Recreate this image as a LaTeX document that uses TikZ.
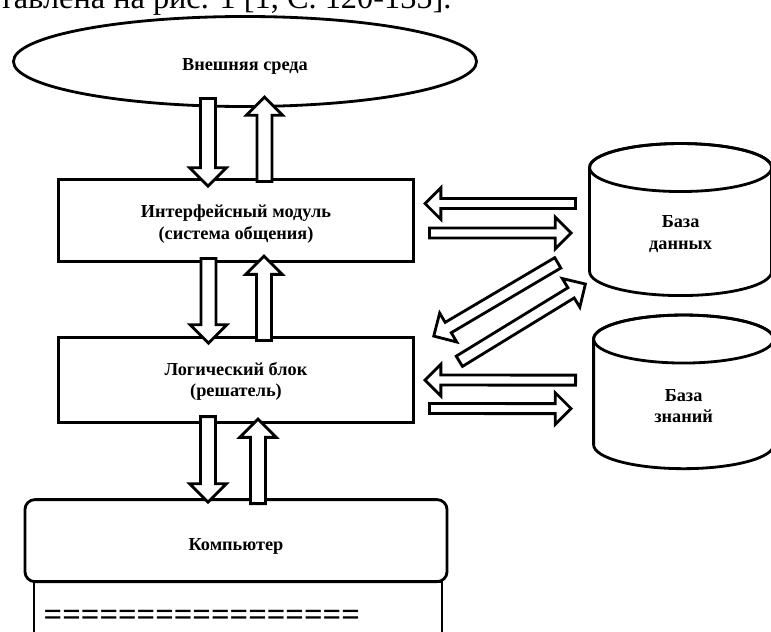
\documentclass[tikz,border=0pt]{standalone}
\usepackage{fontspec}
\setmainfont{Liberation Serif}
\usepackage{tikz}
\usetikzlibrary{positioning,shapes.geometric,calc}
\tikzset{
  sysenv/.style={ellipse,draw,line width=2pt,fill=white,outer sep=0pt,
    minimum width=11.575cm,minimum height=2.25cm,align=center,font=\bfseries\fontsize{13}{15}\selectfont},
  sysblock/.style={rectangle,draw,line width=2pt,fill=white,outer sep=0pt,
    minimum width=8.875cm,minimum height=2.05cm,align=center,font=\bfseries\fontsize{13}{15}\selectfont},
  syscomp/.style={rectangle,draw,line width=2pt,fill=white,rounded corners=0.25cm,outer sep=0pt,
    minimum width=10.55cm,minimum height=2.05cm,align=center,font=\bfseries\fontsize{13}{15}\selectfont},
  sysscreen/.style={rectangle,draw,line width=2pt,outer sep=0pt,minimum width=10.2cm,minimum height=3cm},
  sysstore/.style={rectangle,outer sep=0pt,minimum width=4.55cm,minimum height=3.2cm,
    align=center,font=\bfseries\fontsize{13}{15}\selectfont},
  storeline/.style={line width=2pt},
  fatarrow/.style={draw,line width=2pt,fill=white,line join=miter},
  pagetext/.style={inner sep=0pt,font=\fontsize{23}{28}\selectfont}
}
% hollow block arrow from #2 to #3, #1 = half shaft width
\newcommand{\bigarrow}[3][0.1875cm]{%
  \pgfmathsetlengthmacro{\bahead}{#1+0.27cm}%
  \coordinate (bahb) at ($(#3)!\bahead!(#2)$);
  \draw[fatarrow] ($(#2)!#1!90:(#3)$) -- ($(bahb)!#1!90:(#3)$)
    -- ($(bahb)!\bahead!90:(#3)$) -- (#3)
    -- ($(bahb)!\bahead!-90:(#3)$) -- ($(bahb)!#1!-90:(#3)$)
    -- ($(#2)!#1!-90:(#3)$) -- cycle;
}
% cylinder outline round a store node (top ellipse centred on its north)
\newcommand{\storeoutline}[2]{%
  \draw[storeline] (#1.north west) -- ($(#1.south west)+(0,-24)$)
    arc[start angle=180,end angle=360,x radius=#2,y radius=0.6cm]
    -- (#1.north east) arc[start angle=0,end angle=180,x radius=#2,y radius=0.6cm];
  \draw[storeline] (#1.north) ellipse[x radius=#2,y radius=0.6cm];
}

\begin{document}
\begin{tikzpicture}[x=0.025cm,y=-0.025cm]
  \useasboundingbox (0,0) rectangle (771,632);
  \clip (0,0) rectangle (771,632);
  \node[pagetext, anchor=base west] (pageline) at (-1,8.5) {тавлена на рис. 1 [1, С. 120-135].};

  \node[sysenv, text height=12.5pt, text depth=0pt] (env) at (245,61.5) {Внешняя среда};
  \node[sysblock, below=1.825cm of env, xshift=-0.225cm, text height=26.3pt, text depth=0pt] (iface)
    {Интерфейсный модуль\\(система общения)};
  \node[sysblock, below=1.9cm of iface, minimum height=2.125cm, text height=23.5pt, text depth=0pt] (logic)
    {Логический блок\\(решатель)};
  \node[sysscreen, below=1.925cm+2.05cm of logic, xshift=0.05cm] (screen) {};
  \node[syscomp, below=1.925cm of logic, text height=13.4pt, text depth=0pt] (comp) {Компьютер};
  \node[anchor=base west, inner sep=0pt, font=\bfseries\fontsize{23.2}{28}\selectfont] (scrline)
    at ($(screen.north west)+(9.5,43.5)$) {=================};
  \node[sysstore, right=4.4cm of iface, yshift=-0.275cm, text height=24.9pt, text depth=0pt] (db) {База\\данных};
  \node[sysstore, right=4.5cm of logic, yshift=-0.594cm, minimum width=4.5cm, minimum height=3.24cm,
    text height=26pt, text depth=0pt] (kb) {База\\знаний};
  \storeoutline{db}{2.275cm}
  \storeoutline{kb}{2.25cm}

  % environment <-> interface
  \coordinate (eid1) at ($(env.south)+(-37,-8)$);
  \coordinate (eid2) at ($(iface.north)+(-28,6.5)$);
  \coordinate (eiu1) at ($(iface.north)+(28.5,2)$);
  \coordinate (eiu2) at ($(env.south)+(19.5,-9.5)$);
  % interface <-> logic
  \coordinate (ild1) at ($(iface.south)+(-27.5,-3)$);
  \coordinate (ild2) at ($(logic.north)+(-27.5,5.5)$);
  \coordinate (ilu1) at ($(logic.north)+(28,3)$);
  \coordinate (ilu2) at ($(iface.south)+(28,-5.5)$);
  % logic <-> computer
  \coordinate (lcd1) at ($(logic.south)+(-28,-6)$);
  \coordinate (lcd2) at ($(comp.north)+(-28,2.5)$);
  \coordinate (lcu1) at ($(comp.north)+(22,4)$);
  \coordinate (lcu2) at ($(logic.south)+(22,-3.5)$);
  % stores
  \coordinate (dil1) at ($(db.west)+(-14,-28)$);
  \coordinate (dil2) at ($(iface.east)+(11.5,-17)$);
  \coordinate (dir1) at ($(iface.east)+(16,12.5)$);
  \coordinate (dir2) at ($(db.west)+(-18.5,1.5)$);
  \coordinate (kll1) at ($(kb.west)+(-18,-23.75)$);
  \coordinate (kll2) at ($(logic.east)+(11.5,0)$);
  \coordinate (klr1) at ($(logic.east)+(16,28.5)$);
  \coordinate (klr2) at ($(kb.west)+(-22.5,4.75)$);
  \coordinate (dla1) at ($(db.west)+(-31.8,31.3)$);
  \coordinate (dla2) at ($(logic.east)+(20.2,-44)$);
  \coordinate (dlb1) at ($(logic.east)+(45.8,-18.8)$);
  \coordinate (dlb2) at ($(db.west)+(-4.2,52.5)$);

  \bigarrow{eid1}{eid2};
  \bigarrow{eiu1}{eiu2};
  \bigarrow{ild1}{ild2};
  \bigarrow{ilu1}{ilu2};
  \bigarrow{lcd1}{lcd2};
  \bigarrow{lcu1}{lcu2};
  \bigarrow[0.125cm]{dil1}{dil2};
  \bigarrow[0.125cm]{dir1}{dir2};
  \bigarrow[0.125cm]{kll1}{kll2};
  \bigarrow[0.125cm]{klr1}{klr2};
  \bigarrow[0.15cm]{dla1}{dla2};
  \bigarrow[0.15cm]{dlb1}{dlb2};
\end{tikzpicture}
\end{document}
